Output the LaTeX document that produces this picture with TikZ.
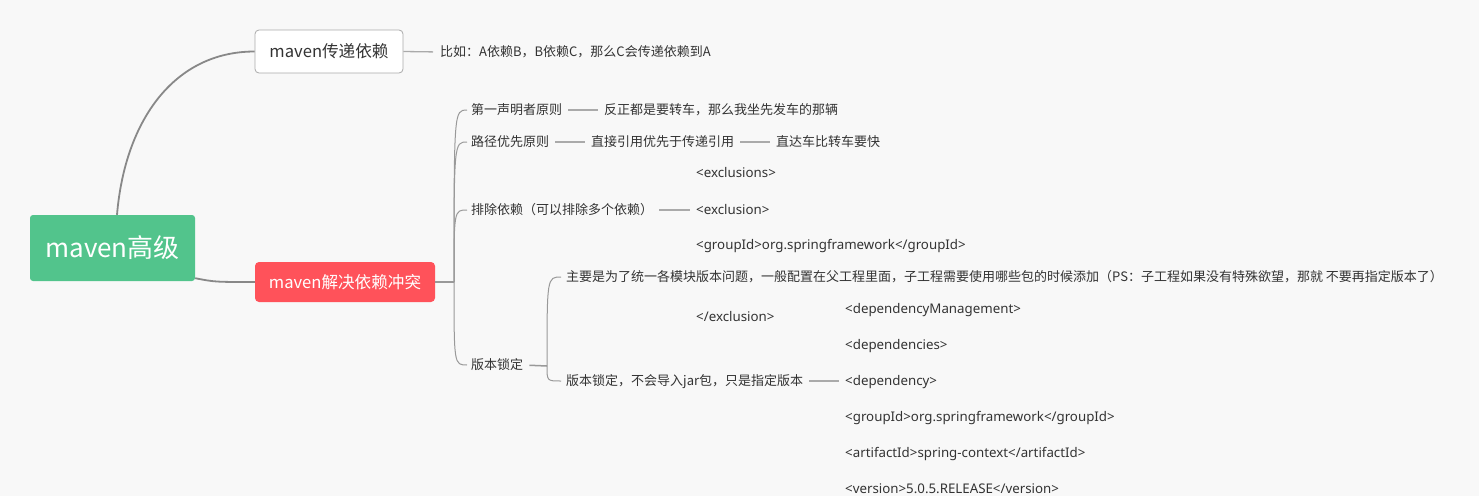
\documentclass[tikz,border=0pt]{standalone}
\usepackage{fontspec}
\setmainfont{Noto Sans CJK SC}
\newfontfamily\lat{Noto Sans}
\usetikzlibrary{calc}
\definecolor{bgc}{HTML}{F8F8F8}
\definecolor{greenc}{HTML}{52C48C}
\definecolor{redc}{HTML}{FF525A}
\definecolor{txtc}{HTML}{333333}
\definecolor{mainc}{HTML}{888888}
\definecolor{branchc}{HTML}{999999}
\definecolor{linec}{HTML}{AAAAAA}
\definecolor{boxc}{HTML}{AAAAAA}
\tikzset{
  txt/.style={inner sep=0pt, anchor=west, text=txtc, text height=10pt, text depth=2pt, font=\fontsize{13}{15}\selectfont},
  code/.style={txt, font=\lat\fontsize{13.3}{15}\selectfont},
  link/.style={draw=linec, line width=1.3pt, shorten <=6pt, shorten >=6pt},
  branch/.style={draw=branchc, line width=1pt},
  mainline/.style={draw=mainc, line width=1.8pt},
  rootbox/.style={fill=greenc, rounded corners=3pt, minimum width=165pt, minimum height=66pt, text=white, font=\fontsize{26}{28}\selectfont, inner sep=0pt},
  topicbox/.style={fill=white, draw=boxc, line width=0.8pt, rounded corners=4pt, minimum width=148pt, minimum height=43pt, text=txtc, font=\fontsize{16.6}{18}\selectfont, inner sep=0pt},
  redbox/.style={fill=redc, rounded corners=4pt, minimum width=180pt, minimum height=40pt, text=white, font=\fontsize{16.6}{18}\selectfont, inner sep=0pt},
}
\begin{document}
\begin{tikzpicture}[x=1pt,y=-1pt]
\fill[bgc] (0,0) rectangle (1479,496);
\useasboundingbox (0,0) rectangle (1479,496);

\node[rootbox] (root) at (112.5,248) {maven高级};
\node[topicbox] (n1) at (329,51.5) {maven传递依赖};
\node[redbox] (n2) at (345,282) {maven解决依赖冲突};

\node[txt] (t1) at (440,52) {比如：A依赖B，B依赖C，那么C会传递依赖到A};

\node[txt] (a1) at (471,110) {第一声明者原则};
\node[txt] (a1r) at (604,110) {反正都是要转车，那么我坐先发车的那辆};
\node[txt] (a2) at (471,142) {路径优先原则};
\node[txt] (a2r) at (591,142) {直接引用优先于传递引用};
\node[txt] (a2rr) at (776,142) {直达车比转车要快};
\node[txt] (a3) at (471,210) {排除依赖（可以排除多个依赖）};
\node[code] (e1) at (696,173) {<exclusions>};
\node[code] (e2) at (696,210) {<exclusion>};
\node[code] (e3) at (696,245) {<groupId>org.springframework</groupId>};
\node[code] (e4) at (696,317) {</exclusion>};
\node[txt] (a4) at (471,365) {版本锁定};

\node[txt] (b1) at (566,277) {主要是为了统一各模块版本问题，一般配置在父工程里面，子工程需要使用哪些包的时候添加（PS：子工程如果没有特殊欲望，那就 不要再指定版本了）};
\node[txt] (b2) at (566,381) {版本锁定，不会导入jar包，只是指定版本};
\node[code] (d1) at (845,309) {<dependencyManagement>};
\node[code] (d2) at (845,345) {<dependencies>};
\node[code] (d3) at (845,381) {<dependency>};
\node[code] (d4) at (845,417) {<groupId>org.springframework</groupId>};
\node[code] (d5) at (845,453) {<artifactId>spring-context</artifactId>};
\node[code] (d6) at (845,489) {<version>5.0.5.RELEASE</version>};

\coordinate (J1) at (454,282);
\coordinate (J2) at (547,366);

% main connectors
\draw[mainline] ([xshift=4.5pt]root.north) .. controls ([xshift=12.5pt,yshift=95pt]root.north) and ([xshift=-80pt]n1.west) .. (n1.west);
\draw[mainline] ([yshift=3pt]root.south east) .. controls ([xshift=-40pt]n2.west) .. (n2.west);

% n1 to its text
\draw[link, shorten <=0pt, shorten >=7pt] (n1.east) -- (t1.west);

% brace of n2
\draw[branch, line width=1.5pt] (n2.east) -- (J1);
\foreach \c in {a1,a2,a3,a4}{
  \draw[branch, shorten >=4pt] (J1) .. controls (J1 |- \c.west) .. (\c.west);
}
\draw[link] (a1.east) -- (a1r.west);
\draw[link] (a2.east) -- (a2r.west);
\draw[link] (a2r.east) -- (a2rr.west);
\draw[link] (a3.east) -- (e2.west);

% brace of a4
\draw[branch, line width=1.5pt, shorten <=6pt] (a4.east) -- (J2);
\foreach \c in {b1,b2}{
  \draw[branch, shorten >=5pt] (J2) .. controls (J2 |- \c.west) .. (\c.west);
}
\draw[link] (b2.east) -- (d3.west);
\end{tikzpicture}
\end{document}
